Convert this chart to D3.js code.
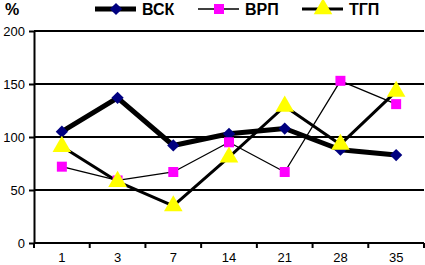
<!DOCTYPE html>
<html>
<head>
<meta charset="utf-8">
<script src="https://cdn.jsdelivr.net/npm/d3@7"></script>
<style>
  body { margin: 0; background: #fff; }
  svg { display: block; font-family: Arial, "Liberation Sans", sans-serif; }
</style>
</head>
<body>
<div id="chart"></div>
<script>
// days on x, percentages on y
var days = ['1', '3', '7', '14', '21', '28', '35']
var vsk = [105, 137, 92, 103, 108, 88, 83]
var vrp = [72, 59, 67, 95, 67, 153, 131]
var tgp = [91, 58, 35, 81, 129, 93, 143]
var yTicks = [0, 50, 100, 150, 200]

var width = 425
var height = 265
var margin = { top: 31, right: 1, bottom: 22, left: 34 }

var svg = d3.select('#chart')
  .append('svg')
  .attr('width', width)
  .attr('height', height)

var x = d3.scaleBand()
  .domain(days)
  .range([margin.left, width - margin.right])

var y = d3.scaleLinear()
  .domain([0, 200])
  .range([height - margin.bottom, margin.top])

// gridlines
svg.append('g')
  .selectAll('line')
  .data(yTicks.filter(function (d) { return d > 0 }))
  .enter()
  .append('line')
  .attr('x1', margin.left)
  .attr('x2', width - margin.right)
  .attr('y1', function (d) { return y(d) })
  .attr('y2', function (d) { return y(d) })
  .attr('stroke', 'black')
  .attr('stroke-width', 2)

// y axis
var yAxis = d3.axisLeft(y).tickValues(yTicks).tickSize(5).tickSizeOuter(0)
var gy = svg.append('g')
  .attr('transform', 'translate(' + margin.left + ',0)')
  .call(yAxis)
gy.select('.domain').attr('stroke-width', 2)
gy.selectAll('.tick line').attr('stroke-width', 2)
gy.selectAll('text').attr('font-size', 13).attr('font-family', 'Arial').attr('dx', -1)

// x axis, ticks between categories
var gx = svg.append('g')
  .attr('transform', 'translate(0,' + y(0) + ')')
gx.append('line')
  .attr('x1', margin.left)
  .attr('x2', width - margin.right)
  .attr('stroke', 'black')
  .attr('stroke-width', 2)
gx.selectAll('.tk')
  .data(days)
  .enter()
  .append('line')
  .attr('x1', function (d) { return x(d) + x.bandwidth() })
  .attr('x2', function (d) { return x(d) + x.bandwidth() })
  .attr('y1', 0)
  .attr('y2', 5)
  .attr('stroke', 'black')
  .attr('stroke-width', 2)
gx.append('line')
  .attr('x1', margin.left).attr('x2', margin.left)
  .attr('y1', 0).attr('y2', 5)
  .attr('stroke', 'black').attr('stroke-width', 2)
gx.selectAll('text')
  .data(days)
  .enter()
  .append('text')
  .attr('x', function (d) { return x(d) + x.bandwidth() / 2 })
  .attr('y', 19)
  .attr('text-anchor', 'middle')
  .attr('font-size', 13)
  .text(function (d) { return d })

var cx = function (d, i) { return x(days[i]) + x.bandwidth() / 2 }

// rot = rotation of the marker, diamond is a turned square
var series = [
  { name: 'ВСК', values: vsk, lw: 5, shape: d3.symbolSquare, size: 75, rot: 45, fill: '#000080' },
  { name: 'ВРП', values: vrp, lw: 1.3, shape: d3.symbolSquare, size: 100, rot: 0, fill: '#ff00ff' },
  { name: 'ТГП', values: tgp, lw: 3, shape: d3.symbolTriangle, size: 150, rot: 0, fill: '#ffff00' }
]

var line = d3.line()
  .x(cx)
  .y(function (d) { return y(d) })

// draw lines first
series.forEach(function (s) {
  svg.append('path')
    .datum(s.values)
    .attr('d', line)
    .attr('fill', 'none')
    .attr('stroke', 'black')
    .attr('stroke-width', s.lw)
    .attr('stroke-linejoin', 'round')
})

series.forEach(function (s) {
  svg.append('g')
    .selectAll('path')
    .data(s.values)
    .enter()
    .append('path')
    .attr('d', d3.symbol().type(s.shape).size(s.size))
    .attr('transform', function (d, i) {
      return 'translate(' + cx(d, i) + ',' + y(d) + ') rotate(' + s.rot + ')'
    })
    .attr('fill', s.fill)
})

// "%" label
svg.append('text')
  .attr('x', 5)
  .attr('y', 15)
  .attr('font-size', 16)
  .attr('font-weight', 'bold')
  .text('%')

// legend
var legendX = [95, 198, 302]
var legend = svg.selectAll('.legend')
  .data(series)
  .enter()
  .append('g')
  .attr('class', 'legend')
  .attr('transform', function (d, i) { return 'translate(' + legendX[i] + ',9)' })

legend.append('line')
  .attr('x1', 0)
  .attr('x2', 41)
  .attr('stroke', 'black')
  .attr('stroke-width', function (d) { return d.lw })

legend.append('path')
  .attr('d', function (d) { return d3.symbol().type(d.shape).size(d.size)() })
  .attr('transform', function (d) { return 'translate(21,0) rotate(' + d.rot + ')' })
  .attr('fill', function (d) { return d.fill })

legend.append('text')
  .attr('x', 47)
  .attr('y', 6)
  .attr('font-size', 16)
  .attr('font-weight', 'bold')
  .text(function (d) { return d.name })
</script>
</body>
</html>
